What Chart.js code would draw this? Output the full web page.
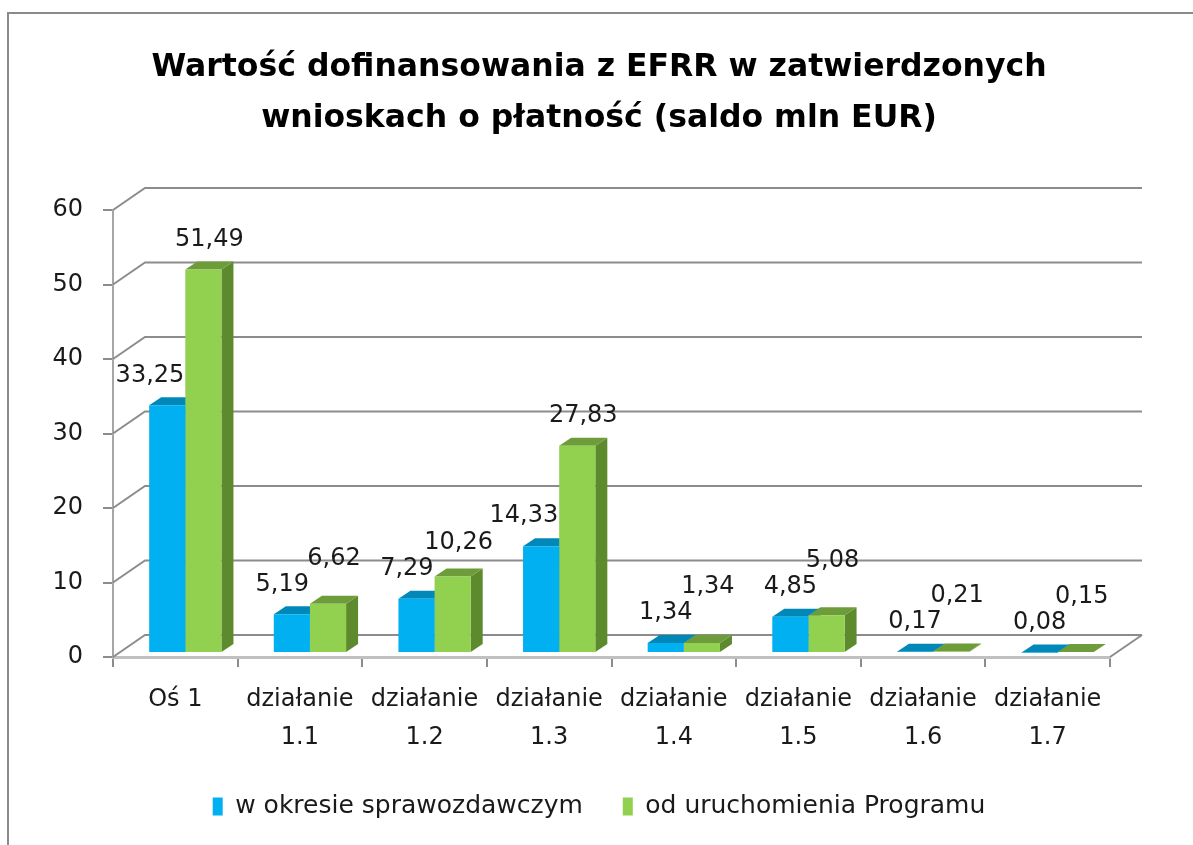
<!DOCTYPE html>
<html>
<head>
<meta charset="utf-8">
<script src="https://cdn.jsdelivr.net/npm/chart.js@4.4.1/dist/chart.umd.min.js"></script>
<style>
  html, body { margin: 0; padding: 0; background: #fff; }
  #wrap { position: relative; width: 1193px; height: 845px; }
</style>
</head>
<body>
<div id="wrap"><canvas id="chart"></canvas></div>
<script>
const titleLines = ['Wartość dofinansowania z EFRR w zatwierdzonych', 'wnioskach o płatność (saldo mln EUR)'];
const categories = ['Oś 1', ['działanie', '1.1'], ['działanie', '1.2'], ['działanie', '1.3'],
    ['działanie', '1.4'], ['działanie', '1.5'], ['działanie', '1.6'], ['działanie', '1.7']];
const seriesNames = ['w okresie sprawozdawczym', 'od uruchomienia Programu'];
const okresValues = [33.25, 5.19, 7.29, 14.33, 1.34, 4.85, 0.17, 0.08];
const programValues = [51.49, 6.62, 10.26, 27.83, 1.34, 5.08, 0.21, 0.15];
const yMin = 0;
const yMax = 60;
const yStep = 10;

// fake 3D geometry (Excel style)
const WALL_DX = 32, WALL_DY = -22;
const BAR_SHIFT_X = 10, BAR_SHIFT_Y = -4;
const BAR_DX = 12, BAR_DY = -8;
const LABEL_RISE = 30;
const LABEL_H = 26;
const GREEN_NUDGE = 6;
const FONT = '"DejaVu Sans", sans-serif';
const TEXT = '#1a1a1a';

const faceColors = [
    { front: '#00B0F0', top: '#0088B9', side: '#0078A5' },
    { front: '#92D050', top: '#6E9C3B', side: '#5E8A2E' }
];

function fmt(v) {
    return v.toFixed(2).replace('.', ',');
}

function poly(ctx, pts, color) {
    ctx.fillStyle = color;
    ctx.beginPath();
    ctx.moveTo(pts[0][0], pts[0][1]);
    for (let i = 1; i < pts.length; i++) ctx.lineTo(pts[i][0], pts[i][1]);
    ctx.closePath();
    ctx.fill();
}

const wall3d = {
    id: 'wall3d',
    beforeDraw(chart) {
        // outer frame (left + top only visible)
        const ctx = chart.ctx;
        ctx.save();
        ctx.strokeStyle = '#8a8a8a';
        ctx.lineWidth = 2;
        ctx.beginPath();
        ctx.moveTo(8, chart.height);
        ctx.lineTo(8, 13);
        ctx.lineTo(chart.width, 13);
        ctx.stroke();
        ctx.restore();
    },
    beforeDatasetsDraw(chart) {
        const { ctx, chartArea: a } = chart;
        const y = chart.scales.y;

        // back wall gridlines + side wall diagonals
        ctx.save();
        ctx.strokeStyle = '#8c8c8c';
        ctx.lineWidth = 2;
        y.ticks.forEach(t => {
            const py = y.getPixelForValue(t.value);
            ctx.beginPath();
            ctx.moveTo(a.left, py);
            ctx.lineTo(a.left + WALL_DX, py + WALL_DY);
            ctx.lineTo(a.right + WALL_DX, py + WALL_DY);
            ctx.stroke();
        });
        ctx.beginPath();
        ctx.moveTo(a.right, a.bottom);
        ctx.lineTo(a.right + WALL_DX, a.bottom + WALL_DY);
        ctx.stroke();
        ctx.restore();

        // bars sit a bit inside the floor; faces first, fronts drawn by chart.js on top
        ctx.save();
        ctx.translate(BAR_SHIFT_X, BAR_SHIFT_Y);
        const metas = chart.data.datasets.map((d, i) => chart.getDatasetMeta(i));
        for (let j = 0; j < categories.length; j++) {
            metas.forEach((m, i) => {
                const bar = m.data[j];
                const c = faceColors[i];
                const x0 = bar.x - bar.width / 2;
                const x1 = bar.x + bar.width / 2;
                const top = bar.y, base = bar.base;
                poly(ctx, [[x1, top], [x1 + BAR_DX, top + BAR_DY], [x1 + BAR_DX, base + BAR_DY], [x1, base]], c.side);
                poly(ctx, [[x0, top], [x1, top], [x1 + BAR_DX, top + BAR_DY], [x0 + BAR_DX, top + BAR_DY]], c.top);
            });
        }
    },
    afterDatasetsDraw(chart) {
        const ctx = chart.ctx;
        ctx.restore();

        ctx.save();
        ctx.font = '24px ' + FONT;
        ctx.fillStyle = TEXT;
        ctx.textAlign = 'center';
        ctx.textBaseline = 'middle';
        const blueMeta = chart.getDatasetMeta(0);
        const greenMeta = chart.getDatasetMeta(1);
        const blueData = chart.data.datasets[0].data;
        const greenData = chart.data.datasets[1].data;

        for (let j = 0; j < categories.length; j++) {
            const b = blueMeta.data[j], g = greenMeta.data[j];
            const bText = fmt(blueData[j]), gText = fmt(greenData[j]);
            const bw = ctx.measureText(bText).width, gw = ctx.measureText(gText).width;

            // blue label: above its bar, pushed left if it would sit on the taller green bar
            let bx = b.x + BAR_SHIFT_X;
            const by = b.y + BAR_SHIFT_Y - LABEL_RISE;
            const gLeft = g.x - g.width / 2 + BAR_SHIFT_X;
            const gTopFace = g.y + BAR_SHIFT_Y + BAR_DY;
            if (by + LABEL_H / 2 > gTopFace && bx + bw / 2 > gLeft) bx = gLeft - bw / 2 - 1;

            // green label: above its bar, lifted over the blue label when they collide
            const gx = g.x + BAR_SHIFT_X + GREEN_NUDGE;
            let gy = g.y + BAR_SHIFT_Y - LABEL_RISE;
            const overlapX = Math.abs(gx - bx) < (gw + bw) / 2;
            const overlapY = Math.abs(gy - by) < LABEL_H;
            if (overlapX && overlapY) gy = by - LABEL_H;

            ctx.fillText(bText, bx, by);
            ctx.fillText(gText, gx, gy);
        }
        ctx.restore();
    }
};

const ctx = document.getElementById('chart').getContext('2d');
new Chart(ctx, {
    type: 'bar',
    data: {
        labels: categories,
        datasets: [{
            label: seriesNames[0],
            data: okresValues,
            backgroundColor: faceColors[0].front,
            borderWidth: 0,
            barPercentage: 1,
            categoryPercentage: 0.58
        }, {
            label: seriesNames[1],
            data: programValues,
            backgroundColor: faceColors[1].front,
            borderWidth: 0,
            barPercentage: 1,
            categoryPercentage: 0.58
        }]
    },
    options: {
        responsive: true,
        maintainAspectRatio: false,
        animation: false,
        events: [],
        layout: { padding: { left: 5, right: 0, top: 0, bottom: 16 } },
        scales: {
            x: {
                ticks: {
                    padding: 14,
                    color: TEXT,
                    maxRotation: 0,
                    autoSkip: false,
                    font: { family: FONT, size: 24, lineHeight: '38px' }
                },
                grid: { drawOnChartArea: false, offset: true, tickLength: 10, color: '#8c8c8c', lineWidth: 2 },
                border: { color: '#c0c0c0', width: 3 },
                afterFit(s) { s.height = 97; }
            },
            y: {
                min: yMin,
                max: yMax,
                ticks: {
                    stepSize: yStep,
                    padding: 20,
                    color: TEXT,
                    font: { family: FONT, size: 24 }
                },
                grid: { drawOnChartArea: false, tickLength: 10, color: '#8c8c8c', lineWidth: 2 },
                border: { color: '#a6a6a6', width: 2 },
                afterFit(s) { s.width = 108; }
            },
            // empty right axis, only reserves room for the 3D wall depth
            spacer: {
                type: 'linear',
                position: 'right',
                ticks: { display: false },
                grid: { display: false },
                border: { display: false },
                afterFit(s) { s.width = 83; }
            }
        },
        plugins: {
            title: {
                display: true,
                text: titleLines,
                color: '#000',
                font: { family: FONT, size: 31.5, weight: 'bold', lineHeight: '51px' },
                padding: { top: 42, bottom: 66 }
            },
            legend: {
                position: 'bottom',
                labels: {
                    boxWidth: 10,
                    boxHeight: 18,
                    padding: 40,
                    color: TEXT,
                    font: { family: FONT, size: 25 }
                }
            },
            tooltip: { enabled: false }
        }
    },
    plugins: [wall3d]
});
</script>
</body>
</html>
